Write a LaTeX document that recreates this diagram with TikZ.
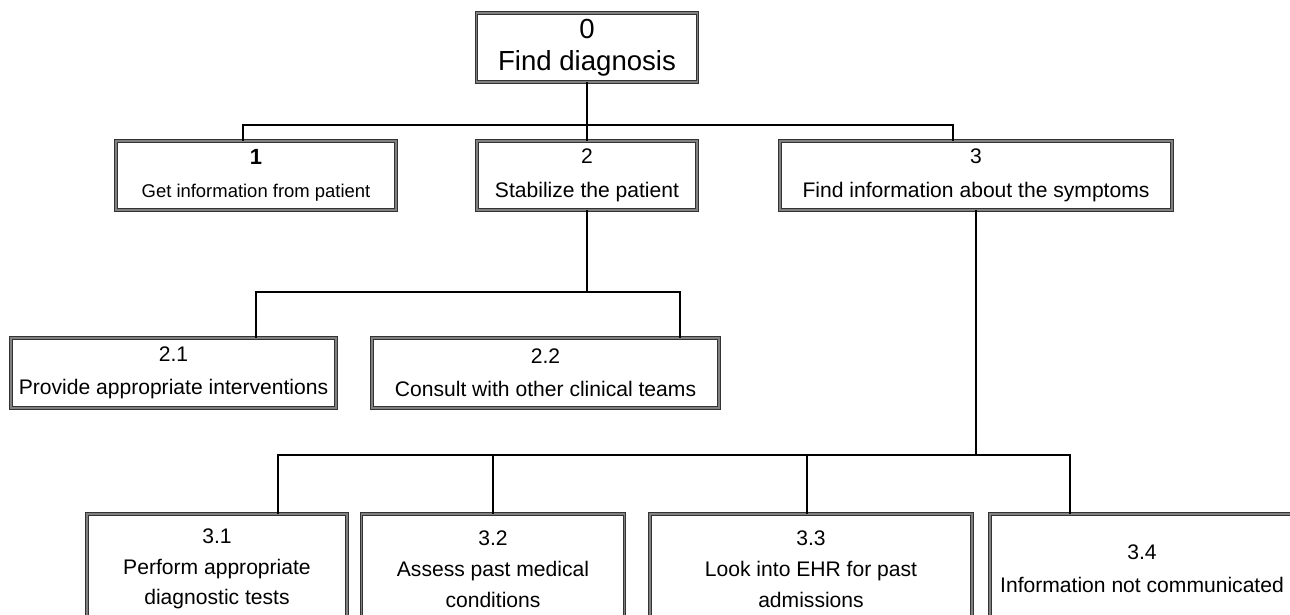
\documentclass[tikz,border=0pt]{standalone}
\usepackage{fontspec}
\setmainfont{Liberation Sans}
\begin{document}
\begin{tikzpicture}[
  box/.style={draw=black!80, double=black!50, double distance=0.8pt, line width=0.55pt,
    fill=white, align=center, inner sep=0pt, font=\fontsize{12}{19}\selectfont},
  link/.style={line width=1pt}]
\useasboundingbox (0,0) rectangle (25.8,-12.3);
\clip (0,0) rectangle (25.8,-12.3);

% top level
\node[box, minimum width=4.42cm, minimum height=1.38cm, font=\fontsize{15.7}{18}\selectfont] (n0) at (11.74,-0.95) {0\\Find diagnosis};

% first level
\node[box, minimum width=5.6cm, minimum height=1.38cm, font=\fontsize{10.5}{19}\selectfont] (n1) at (5.12,-3.51) {{\fontsize{12.5}{19}\selectfont\bfseries 1}\\Get information from patient};
\node[box, minimum width=4.4cm, minimum height=1.38cm] (n2) at (11.74,-3.51) {2\\Stabilize the patient};
\node[box, minimum width=7.84cm, minimum height=1.38cm] (n3) at (19.52,-3.51) {3\\Find information about the symptoms};

% under 2
\node[box, minimum width=6.5cm, minimum height=1.4cm] (n21) at (3.47,-7.46) {2.1\\Provide appropriate interventions};
\node[box, minimum width=6.94cm, minimum height=1.4cm] (n22) at (10.91,-7.46) {2.2\\Consult with other clinical teams};

% under 3
\node[box, minimum width=5.2cm, minimum height=2.2cm, font=\fontsize{12}{17.5}\selectfont] (n31) at (4.34,-11.38) {3.1\\Perform appropriate\\diagnostic tests};
\node[box, minimum width=5.26cm, minimum height=2.2cm, font=\fontsize{12}{17.5}\selectfont] (n32) at (9.86,-11.38) {3.2\\Assess past medical\\conditions};
\node[box, minimum width=6.44cm, minimum height=2.2cm, font=\fontsize{12}{17.5}\selectfont] (n33) at (16.22,-11.38) {3.3\\Look into EHR for past\\admissions};
\node[box, minimum width=6.08cm, minimum height=2.2cm, font=\fontsize{12}{19}\selectfont] (n34) at (22.84,-11.38) {3.4\\Information not communicated};

% junctions
\coordinate (j0) at (11.74,-2.5);
\coordinate (j2) at (11.74,-5.84);
\coordinate (j3) at (19.52,-9.1);

\draw[link] (n0) -- (j0);
\draw[link] (j0) -| ([xshift=-0.26cm]n1.north);
\draw[link] (j0) -- (n2);
\draw[link] (j0) -| ([xshift=-0.46cm]n3.north);

\draw[link] (n2) -- (j2);
\draw[link] (j2) -| ([xshift=1.65cm]n21.north);
\draw[link] (j2) -| ([xshift=2.69cm]n22.north);

\draw[link] (n3) -- (j3);
\draw[link] (j3) -| ([xshift=1.22cm]n31.north);
\draw[link] (j3) -| (n32.north);
\draw[link] (j3) -| ([xshift=-0.08cm]n33.north);
\draw[link] (j3) -| ([xshift=-1.44cm]n34.north);

\end{tikzpicture}
\end{document}
